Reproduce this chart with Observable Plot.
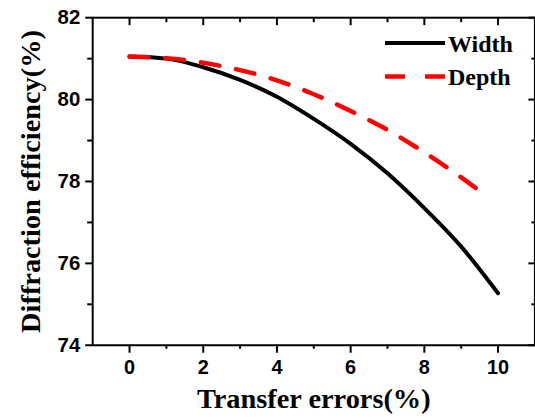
<!DOCTYPE html>
<html>
<head>
<meta charset="utf-8">
<script src="https://cdn.jsdelivr.net/npm/d3@7"></script>
<script src="https://cdn.jsdelivr.net/npm/@observablehq/plot@0.6"></script>
<style>
  html, body { margin: 0; padding: 0; background: #fff; overflow: hidden; }
  #wrap { position: relative; width: 535px; height: 418px; overflow: hidden; }
  #legend { position: absolute; left: 0; top: 0; pointer-events: none; }
</style>
</head>
<body>
<div id="wrap"></div>
<script>
// ---- data ----
const widthErrors = [0, 1, 2, 3, 4, 5, 6, 7, 8, 9, 10];
const widthEff    = [81.05, 81.0, 80.79, 80.48, 80.07, 79.53, 78.92, 78.2, 77.35, 76.41, 75.27];
const depthErrors = [0, 1, 2, 3, 4, 5, 6, 7, 8, 9, 9.5];
const depthEff    = [81.05, 81.01, 80.9, 80.72, 80.47, 80.13, 79.72, 79.26, 78.71, 78.1, 77.77];
const xMajorTicks = [0, 2, 4, 6, 8, 10];
const xMinorTicks = [1, 3, 5, 7, 9];
const yMajorTicks = [74, 76, 78, 80, 82];
const yMinorTicks = [75, 77, 79, 81];
const seriesNames = ["Width", "Depth"];
const xTitle = "Transfer errors(%)";
const yTitle = "Diffraction efficiency(%)";

const widthData = widthErrors.map((x, i) => ({x, y: widthEff[i]}));
const depthData = depthErrors.map((x, i) => ({x, y: depthEff[i]}));

const sans = "'Liberation Sans', Arial, sans-serif";
const serif = "'Liberation Serif', 'Times New Roman', serif";

const chart = Plot.plot({
  width: 538,
  height: 418,
  marginLeft: 92.7,
  marginRight: 0.6,
  marginTop: 17.3,
  marginBottom: 71.3,
  x: {domain: [-1, 11]},
  y: {domain: [74, 82]},
  style: {background: "white", color: "black"},
  marks: [
    Plot.line(widthData, {x: "x", y: "y", stroke: "black", strokeWidth: 4, curve: "monotone-x"}),
    Plot.line(depthData, {x: "x", y: "y", stroke: "#ff0000", strokeWidth: 4.5, curve: "monotone-x", strokeDasharray: "19,17"}),
    // bottom axis
    Plot.axisX({anchor: "bottom", ticks: xMajorTicks, tickSize: 8, tickPadding: 7, tickFormat: d => String(d),
      fontSize: 20, fontWeight: "bold", fontFamily: sans, label: null, strokeWidth: 2}),
    Plot.axisX({anchor: "bottom", ticks: xMinorTicks, tickSize: 4, fill: "none", tickFormat: () => "", label: null, strokeWidth: 2}),
    // top axis (inward)
    Plot.axisX({anchor: "top", ticks: xMajorTicks, tickSize: -7, fill: "none", tickFormat: () => "", label: null, strokeWidth: 2}),
    Plot.axisX({anchor: "top", ticks: xMinorTicks, tickSize: -4, fill: "none", tickFormat: () => "", label: null, strokeWidth: 2}),
    // left axis
    Plot.axisY({anchor: "left", ticks: yMajorTicks, tickSize: 7, tickPadding: 5.5, tickFormat: d => String(d),
      fontSize: 20.5, fontWeight: "bold", fontFamily: sans, label: null, strokeWidth: 2}),
    Plot.axisY({anchor: "left", ticks: yMinorTicks, tickSize: 5, fill: "none", tickFormat: () => "", label: null, strokeWidth: 2}),
    // right axis (inward)
    Plot.axisY({anchor: "right", ticks: yMajorTicks, tickSize: -7, fill: "none", tickFormat: () => "", label: null, strokeWidth: 2}),
    Plot.axisY({anchor: "right", ticks: yMinorTicks, tickSize: -4, fill: "none", tickFormat: () => "", label: null, strokeWidth: 2}),
    Plot.frame({stroke: "black", strokeWidth: 2}),
    // axis titles
    Plot.text([xTitle], {frameAnchor: "bottom", textAnchor: "middle", dy: 63.3, lineAnchor: "bottom", fontSize: 28.5, fontWeight: "bold", fontFamily: serif, fill: "black"}),
    Plot.text([yTitle], {frameAnchor: "left", textAnchor: "middle", rotate: -90, dx: -52.7, lineAnchor: "bottom", fontSize: 28.5, fontWeight: "bold", fontFamily: serif, fill: "black"})
  ]
});

const wrap = document.getElementById("wrap");
wrap.appendChild(chart);

// legend overlay
const ns = "http://www.w3.org/2000/svg";
const leg = document.createElementNS(ns, "svg");
leg.setAttribute("id", "legend");
leg.setAttribute("width", 535);
leg.setAttribute("height", 120);
const items = [
  {name: seriesNames[0], stroke: "black", dash: null, y: 43, base: 52, sw: 4},
  {name: seriesNames[1], stroke: "#ff0000", dash: "20,20", y: 76.5, base: 84.5, sw: 4.5}
];
for (const it of items) {
  const l = document.createElementNS(ns, "line");
  l.setAttribute("x1", 385); l.setAttribute("x2", 445);
  l.setAttribute("y1", it.y); l.setAttribute("y2", it.y);
  l.setAttribute("stroke", it.stroke); l.setAttribute("stroke-width", it.sw);
  if (it.dash) l.setAttribute("stroke-dasharray", it.dash);
  leg.appendChild(l);
  const t = document.createElementNS(ns, "text");
  t.setAttribute("x", 448); t.setAttribute("y", it.base);
  t.setAttribute("font-family", serif); t.setAttribute("font-weight", "bold");
  t.setAttribute("font-size", 24);
  t.textContent = it.name;
  leg.appendChild(t);
}
wrap.appendChild(leg);
</script>
</body>
</html>
